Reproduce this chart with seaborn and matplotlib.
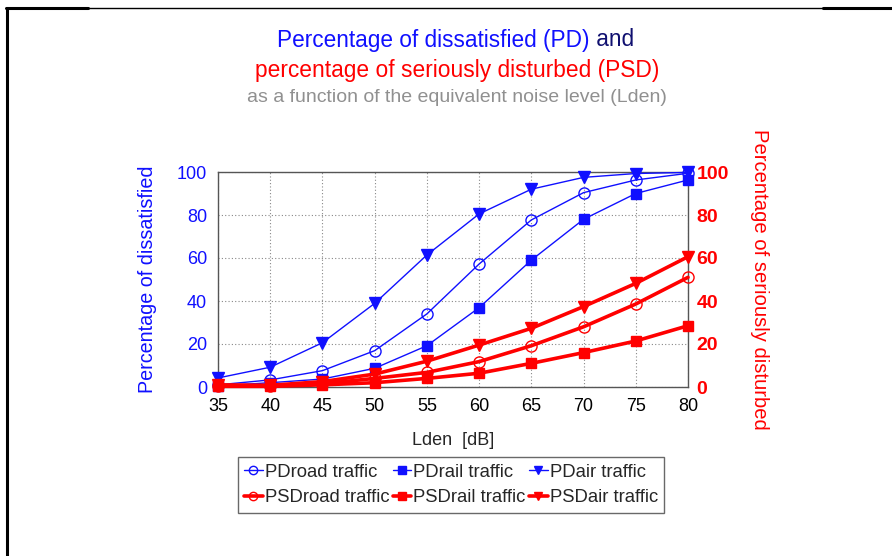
import matplotlib
matplotlib.use("Agg")
import matplotlib.pyplot as plt
import seaborn as sns
import pandas as pd
from matplotlib.lines import Line2D

lden = [35, 40, 45, 50, 55, 60, 65, 70, 75, 80]
pd_road = [1.0, 3.3, 7.6, 16.9, 34.0, 57.2, 77.7, 90.4, 96.3, 99.4]
pd_rail = [0.5, 2.0, 3.7, 8.7, 19.2, 36.9, 59.0, 78.0, 90.0, 96.3]
pd_air = [4.2, 9.2, 20.6, 38.9, 61.4, 80.5, 92.0, 97.5, 99.3, 99.8]
psd_road = [0.5, 0.5, 1.5, 4.0, 6.8, 11.8, 19.2, 28.0, 38.6, 51.0]
psd_rail = [0.3, 0.3, 1.0, 2.0, 4.0, 6.4, 11.0, 16.0, 21.4, 28.5]
psd_air = [1.0, 0.8, 2.5, 6.0, 12.0, 19.5, 27.3, 37.4, 48.2, 60.6]

series_names = ["PDroad traffic", "PDrail traffic", "PDair traffic",
                "PSDroad traffic", "PSDrail traffic", "PSDair traffic"]
series_vals = [pd_road, pd_rail, pd_air, psd_road, psd_rail, psd_air]

sns.set_style("white")
plt.rcParams['font.family'] = ['Liberation Sans', 'DejaVu Sans']

fig = plt.figure(figsize=(8.92, 5.56), dpi=100)
ax = fig.add_axes([218/892, 1-387/556, 470/892, 215/556])

blue = "#1010ff"
red = "#ff0000"
styles = [
    dict(color=blue, marker="o", mfc="none", mec=blue, lw=1.0, ms=8),
    dict(color=blue, marker="s", mfc=blue, mec=blue, lw=1.0, ms=7.5),
    dict(color=blue, marker="v", mfc=blue, mec=blue, lw=1.0, ms=8),
    dict(color=red, marker="o", mfc="none", mec=red, lw=2.6, ms=8),
    dict(color=red, marker="s", mfc=red, mec=red, lw=2.6, ms=7.5),
    dict(color=red, marker="v", mfc=red, mec=red, lw=2.6, ms=8),
]

handles = []
for name, vals, st in zip(series_names, series_vals, styles):
    df = pd.DataFrame({"Lden": lden, "val": vals})
    sns.lineplot(data=df, x="Lden", y="val", ax=ax, color=st["color"],
                 marker=st["marker"], markerfacecolor=st["mfc"],
                 markeredgecolor=st["mec"], markersize=st["ms"],
                 markeredgewidth=1.0, linewidth=st["lw"], clip_on=False,
                 zorder=3)
    handles.append(Line2D([], [], color=st["color"], marker=st["marker"],
                          markerfacecolor=st["mfc"], markeredgecolor=st["mec"],
                          markersize=st["ms"] * 0.75, linewidth=st["lw"]))

ax.set_xlim(35, 80)
ax.set_ylim(0, 100)
ax.set_xticks(lden)
ax.set_yticks([0, 20, 40, 60, 80, 100])
ax.grid(True, color="#888888", linestyle=(0, (1, 2)), linewidth=0.8)
for s in ax.spines.values():
    s.set_color("#555555")
    s.set_linewidth(1.0)
ax.tick_params(axis="both", length=0, labelsize=13)
ax.tick_params(axis="y", colors=blue, pad=8)
ax.tick_params(axis="x", colors="black", pad=8)
ax.set_xlabel("Lden  [dB]", fontsize=13, labelpad=12)
ax.set_ylabel("Percentage of dissatisfied", fontsize=14.2, color=blue, labelpad=14)

ax2 = ax.twinx()
ax2.set_ylim(0, 100)
ax2.set_yticks([0, 20, 40, 60, 80, 100])
ax2.tick_params(axis="y", length=0, labelsize=14, colors=red, pad=6)
for lab in ax2.get_yticklabels():
    lab.set_fontweight("bold")
for s in ax2.spines.values():
    s.set_visible(False)
ax2.set_ylabel("Percentage of seriously disturbed", fontsize=14.6, color=red,
               rotation=-90, labelpad=29)

order = [0, 3, 1, 4, 2, 5]
leg = fig.legend([handles[i] for i in order], [series_names[i] for i in order],
                 loc="center", bbox_to_anchor=(451/892, 1-485/556), ncol=3,
                 fontsize=13.3, handlelength=1.0, handletextpad=0.1,
                 columnspacing=0.2, labelspacing=0.45, borderpad=0.35,
                 borderaxespad=0, fancybox=False, frameon=True)
leg.get_frame().set_edgecolor("#444444")
leg.get_frame().set_linewidth(1.0)

t1 = fig.text(277/892, 1-40/556, "Percentage of dissatisfied (PD)", color=blue,
              fontsize=16.3, ha="left", va="center")
fig.canvas.draw()
bb = t1.get_window_extent()
fig.text(bb.x1/892, 1-40/556, " and", color="#101070", fontsize=16.3,
         ha="left", va="center")
fig.text(457/892, 1-70/556, "percentage of seriously disturbed (PSD)", color=red,
         fontsize=16.4, ha="center", va="center")
fig.text(457/892, 1-97/556, "as a function of the equivalent noise level (Lden)",
         color="#909090", fontsize=14, ha="center", va="center")

# outer frame lines
fig.add_artist(Line2D([7/892, 7/892], [1-8/556, 0], color="black", lw=2.2,
                      transform=fig.transFigure))
fig.add_artist(Line2D([6/892, 88/892], [1-8/556, 1-8/556], color="black", lw=2.2,
                      transform=fig.transFigure))
fig.add_artist(Line2D([88/892, 823/892], [1-7.5/556, 1-7.5/556], color="black", lw=1.0,
                      transform=fig.transFigure))
fig.add_artist(Line2D([823/892, 892/892], [1-8/556, 1-8/556], color="black", lw=2.2,
                      transform=fig.transFigure))

fig.savefig("out.png", dpi=100)
